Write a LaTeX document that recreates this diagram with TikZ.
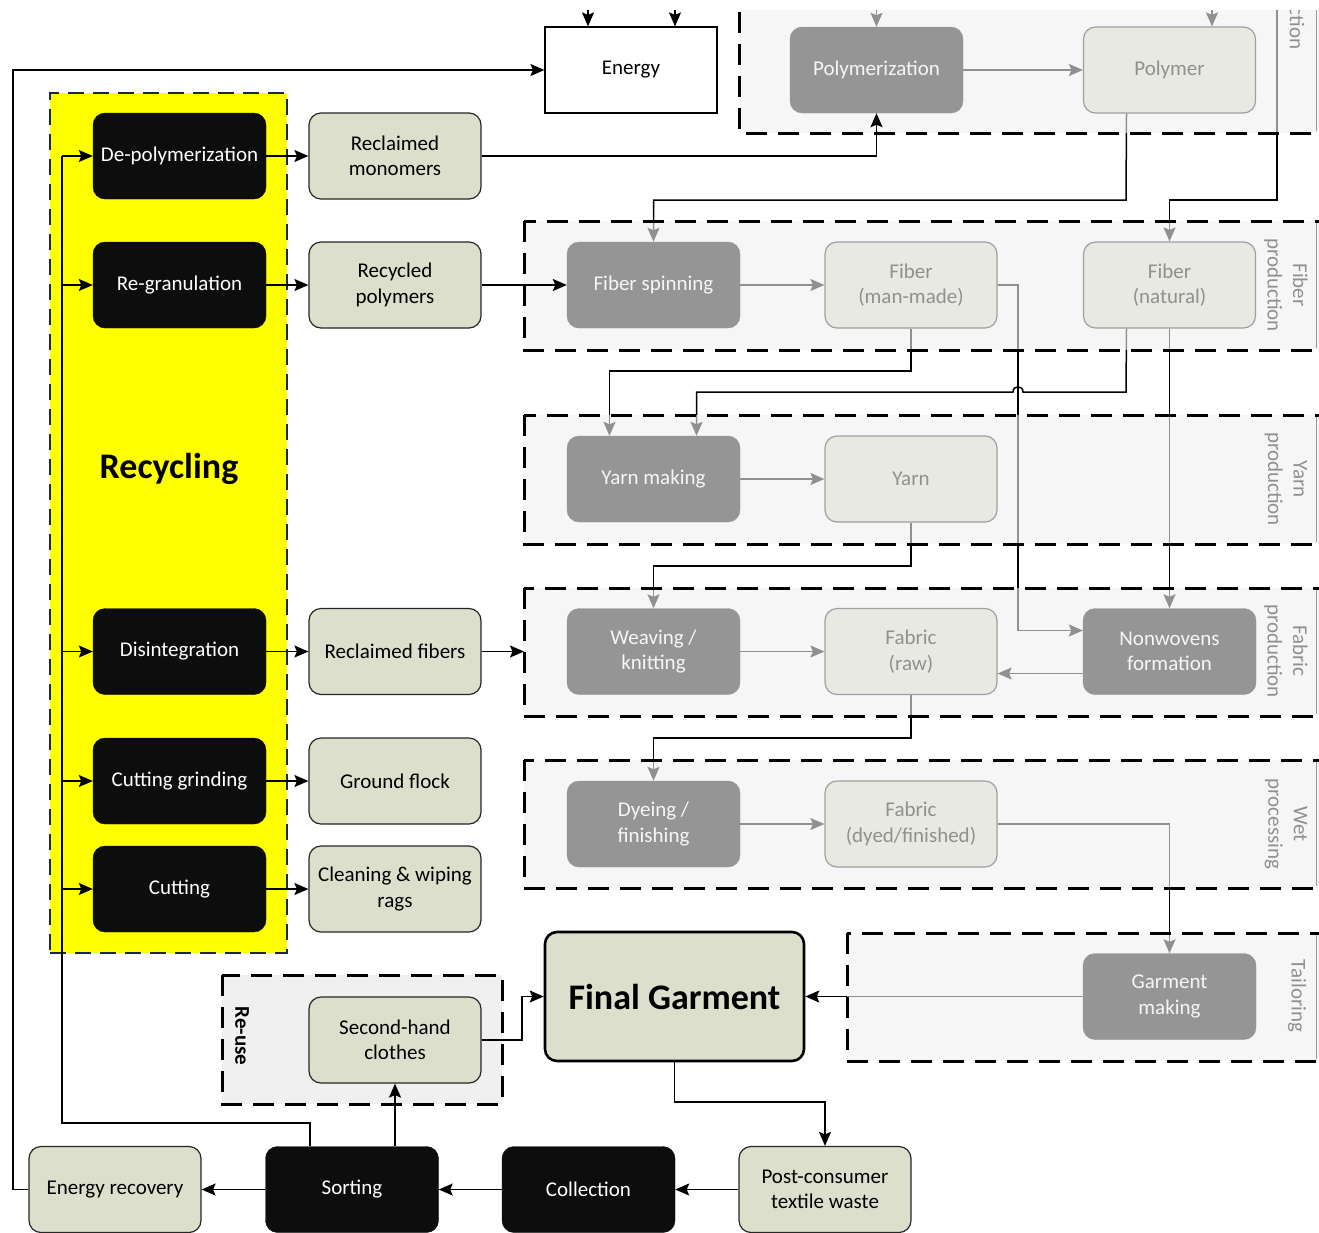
\documentclass[tikz,border=0pt]{standalone}
\usepackage{fontspec}
\setmainfont{Carlito}
\usetikzlibrary{arrows.meta}
\definecolor{prodfill}{RGB}{221,223,205}
\definecolor{procfill}{RGB}{13,13,13}
\definecolor{panelc}{RGB}{240,240,240}
\definecolor{navyb}{RGB}{25,40,70}
\definecolor{reusec}{RGB}{240,240,240}
\definecolor{yell}{RGB}{255,255,0}
\begin{document}
\begin{tikzpicture}[x=1pt,y=-1pt,
 every node/.style={font=\fontsize{21}{25.5}\selectfont, align=center, inner sep=0pt},
 proc/.style={draw=procfill, fill=procfill, text=white, rounded corners=12pt, minimum width=173pt, minimum height=86pt},
 prod/.style={draw=black!85, line width=1.2pt, fill=prodfill, text=black, rounded corners=12pt, minimum width=172pt, minimum height=86pt},
 conn/.style={line width=1.5pt, draw=black},
 arr/.style={conn, -{Stealth[length=14pt,width=12pt,inset=2.5pt]}},
 panel/.style={fill=panelc, fill opacity=0.6, draw=none},
 pborder/.style={draw=black, line width=3pt, dash pattern=on 21pt off 11pt},
 plabel/.style={rotate=-90, text=black},
 lframe/.style={draw=black!40, line width=0.8pt},
]
\useasboundingbox (0,0) rectangle (1319,1232);
\begin{scope}
\clip (0,10) rectangle (1319,1232);

% Re-use panel
\draw[fill=reusec, pborder] (222,975) rectangle (502,1104);
\node[plabel, font=\fontsize{21}{25.5}\selectfont\bfseries] (reuselab) at (242,1036) {Re-use};

% Recycling box
\node[draw=navyb, fill=yell, line width=2.6pt, dash pattern=on 16pt off 9pt, minimum width=237pt, minimum height=860pt] (recyc) at (168.5,523) {};
\node[font=\fontsize{36}{40}\selectfont\bfseries] (recyclab) at (169,469) {Recycling};

% Recycling processes
\node[proc] (depoly) at (179.5,156) {De-polymerization};
\node[proc] (regran) at (179.5,285) {Re-granulation};
\node[proc] (disint) at (179.5,651.5) {Disintegration};
\node[proc] (cutgr) at (179.5,781) {Cutting grinding};
\node[proc] (cut) at (179.5,889) {Cutting};

% Recycling products
\node[prod] (recmono) at (395,156) {Reclaimed\\monomers};
\node[prod] (recpoly) at (395,285) {Recycled\\polymers};
\node[prod] (recfib) at (395,651.5) {Reclaimed fibers};
\node[prod] (flock) at (395,781) {Ground flock};
\node[prod] (rags) at (395,889) {Cleaning \& wiping\\rags};

% Energy
\node[prod, fill=white, rounded corners=0pt, draw=black] (energy) at (631,70) {Energy};

% Pipeline nodes
\node[proc] (polymz) at (876.5,70) {Polymerization};
\node[prod] (polymer) at (1169.5,70) {Polymer};
\node[proc] (fspin) at (653.5,285) {Fiber spinning};
\node[prod] (fibm) at (911,285) {Fiber\\(man-made)};
\node[prod] (fibn) at (1169.5,285) {Fiber\\(natural)};
\node[proc] (yarnmk) at (653.5,479) {Yarn making};
\node[prod] (yarn) at (911,479) {Yarn};
\node[proc] (weav) at (653.5,651.5) {Weaving /\\knitting};
\node[prod] (fabraw) at (911,651.5) {Fabric\\(raw)};
\node[proc] (nonw) at (1169.5,651.5) {Nonwovens\\formation};
\node[proc] (dye) at (653.5,824) {Dyeing /\\finishing};
\node[prod] (fabdyed) at (911,824) {Fabric\\(dyed/finished)};
\node[proc] (garm) at (1169.5,996.5) {Garment\\making};

% Final garment and bottom row
\node[prod, line width=2.6pt, draw=black, minimum width=259pt, minimum height=129pt, font=\fontsize{36}{40}\selectfont\bfseries] (final) at (674.5,996.5) {Final Garment};
\node[prod] (second) at (395,1040) {Second-hand\\clothes};
\node[prod] (erec) at (115,1189.5) {Energy recovery};
\node[proc] (sort) at (352,1189.5) {Sorting};
\node[proc] (coll) at (588.5,1189.5) {Collection};
\node[prod] (pcw) at (825,1189.5) {Post-consumer\\textile waste};

% panel labels (under overlay)
\node[plabel] (lab0) at (1297,28) {ction};
\node[plabel] (lab1) at (1286,285) {Fiber\\production};
\node[plabel] (lab2) at (1286,479) {Yarn\\production};
\node[plabel] (lab3) at (1286,651) {Fabric\\production};
\node[plabel] (lab4) at (1286,824) {Wet\\processing};
\node[plabel] (lab5) at (1297,996) {Tailoring};

% connectors beneath panel overlays
\coordinate (tin1) at (876.5,0);
\coordinate (tin2) at (1212,0);
\coordinate (natin) at (1277,0);
\draw[arr] (tin1) -- (polymz.north);
\draw[arr] (tin2) -- (tin2 |- polymer.north);
\draw[arr] (polymz) -- (polymer);
\draw[arr] (natin) -- (1277,200) -| (fibn.north);
\draw[arr] ([xshift=-43pt]polymer.south) -- (1126,200) -| (fspin.north);
\draw[arr] (fspin) -- (fibm);
\draw[arr] (fibm.south) -- (911,371) -| ([xshift=-44pt]yarnmk.north);
\draw[arr] ([xshift=-43pt]fibn.south) -- (1126,392) -- (1023,392) .. controls (1023,385) and (1013,385) .. (1013,392) -| ([xshift=43pt]yarnmk.north);
\draw[arr] (fibn) -- (nonw);
\draw[arr] (fibm.east) -- (1018,285) |- ([yshift=21pt]nonw.west);
\draw[arr] (yarnmk) -- (yarn);
\draw[arr] (yarn.south) -- (911,566) -| (weav.north);
\draw[arr] (weav) -- (fabraw);
\draw[arr] ([yshift=-22pt]nonw.west) -- ([yshift=-22pt]fabraw.east);
\draw[arr] (fabraw.south) -- (911,738) -| (dye.north);
\draw[arr] (dye) -- (fabdyed);
\draw[arr] (fabdyed.east) -| (garm.north);
\draw[arr] (garm) -- (final);

% panel overlays
\fill[panel] (739,-20) rectangle (1345,133);
\fill[panel] (524,221) rectangle (1345,350);
\fill[panel] (524,415) rectangle (1345,544);
\fill[panel] (524,588) rectangle (1345,716);
\fill[panel] (524,760) rectangle (1345,888);
\fill[panel] (847,933) rectangle (1345,1061);

% label frames
\draw[lframe] (1316.5,10) -- (1316.5,131);
\draw[lframe] (1316.5,223) -- (1316.5,348);
\draw[lframe] (1316.5,417) -- (1316.5,542);
\draw[lframe] (1316.5,590) -- (1316.5,714);
\draw[lframe] (1316.5,762) -- (1316.5,886);
\draw[lframe] (1316.5,935) -- (1316.5,1059);

% panel borders
\draw[pborder] (739,-20) rectangle (1345,133);
\draw[pborder] (524,221) rectangle (1345,350);
\draw[pborder] (524,415) rectangle (1345,544);
\draw[pborder] (524,588) rectangle (1345,716);
\draw[pborder] (524,760) rectangle (1345,888);
\draw[pborder] (847,933) rectangle (1345,1061);

% connectors on top
\coordinate (ein1) at (588,0);
\coordinate (ein2) at (675,0);
\draw[arr] (ein1) -- (ein1 |- energy.north);
\draw[arr] (ein2) -- (ein2 |- energy.north);
\draw[arr] (recmono.east) -| (polymz.south);
\draw[arr] (recpoly) -- (fspin);
\coordinate (fabin) at (524,651.5);
\draw[arr] (recfib) -- (fabin);

% recycling feed from sorting
\draw[conn] ([xshift=-42pt]sort.north) -- (310,1123) -- (62,1123) -- (62,156);
\draw[arr] (62,156) -- (depoly);
\draw[arr] (62,285) -- (regran);
\draw[arr] (62,651.5) -- (disint);
\draw[arr] (62,781) -- (cutgr);
\draw[arr] (62,889) -- (cut);
\draw[arr] (depoly) -- (recmono);
\draw[arr] (regran) -- (recpoly);
\draw[arr] (disint) -- (recfib);
\draw[arr] (cutgr) -- (flock);
\draw[arr] (cut) -- (rags);

% bottom loop
\draw[arr] (erec.west) -- (13,1189.5) |- (energy.west);
\draw[arr] (second.east) -- (522,1040) |- (final.west);
\draw[arr] (final.south) -- (674.5,1102) -| (pcw.north);
\draw[arr] (pcw) -- (coll);
\draw[arr] (coll) -- (sort);
\draw[arr] (sort) -- (erec);
\draw[arr] (sort.north -| second.south) -- (second.south);
\end{scope}
\end{tikzpicture}
\end{document}
